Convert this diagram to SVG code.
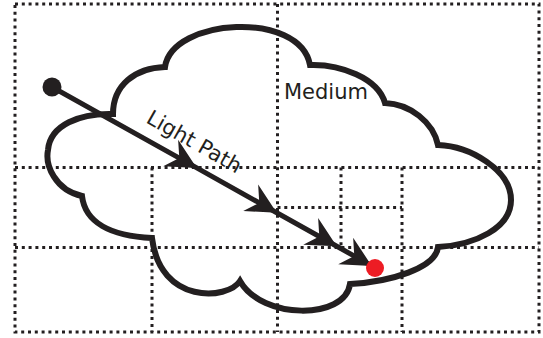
<svg xmlns="http://www.w3.org/2000/svg" width="543" height="338" viewBox="0 0 543 338">
<style>
.grid{fill:none;stroke:#231f20;stroke-width:3;stroke-dasharray:3 3.8}
.cloud{fill:none;stroke:#231f20;stroke-width:6;stroke-linejoin:miter}
.ray{fill:none;stroke:#231f20;stroke-width:5}
.lbl{font-family:"DejaVu Sans",Verdana,sans-serif;font-size:21px;fill:#231f20}
</style>
<defs>
<marker id="ah" markerUnits="userSpaceOnUse" viewBox="-32 -18 36 36" refX="0" refY="0" markerWidth="36" markerHeight="36" orient="auto">
<path d="M2,0 L-28,-15.5 L-18,0 L-28,15 Z" fill="#231f20"/>
</marker>
</defs>
<g id="grid">
<rect class="grid" x="15" y="4" width="524" height="328"/>
<line class="grid" x1="277.5" y1="4" x2="277.5" y2="332"/>
<line class="grid" x1="15" y1="167.5" x2="539" y2="167.5"/>
<line class="grid" x1="15" y1="247.5" x2="539" y2="247.5"/>
<line class="grid" x1="152" y1="167.5" x2="152" y2="332"/>
<line class="grid" x1="341" y1="167.5" x2="341" y2="247.5"/>
<line class="grid" x1="402" y1="167.5" x2="402" y2="332"/>
<line class="grid" x1="277.5" y1="207.5" x2="402" y2="207.5"/>
</g>
<g id="medium">
<path class="cloud" d="M165,67 C172,18 300,10 310,65 C340,64 378,78 385,103 C410,104 433,122 438,145 C470,146 511,170 511,200 C511,228 475,245 438,247 C436,268 390,282 350,284 C345,320 262,320 240,281 C228,300 160,305 152,238 C110,236 85,222 82,196 C55,190 45,165 48,150 C50,125 80,113 113,114 C113,85 135,68 165,67 Z"/>
<text class="lbl" x="284" y="98.5">Medium</text>
</g>
<g id="connectors">
<polyline class="ray" points="52,87 195,166.9 275,211.7 335,245.3 370,264.9" marker-mid="url(#ah)" marker-end="url(#ah)"/>
<text class="lbl" transform="translate(145,122) rotate(29.5)">Light Path</text>
</g>
<g id="source"><circle cx="52" cy="87" r="9.5" fill="#231f20"/></g>
<g id="target"><circle cx="375" cy="268" r="9" fill="#ed1c24"/></g>
</svg>
